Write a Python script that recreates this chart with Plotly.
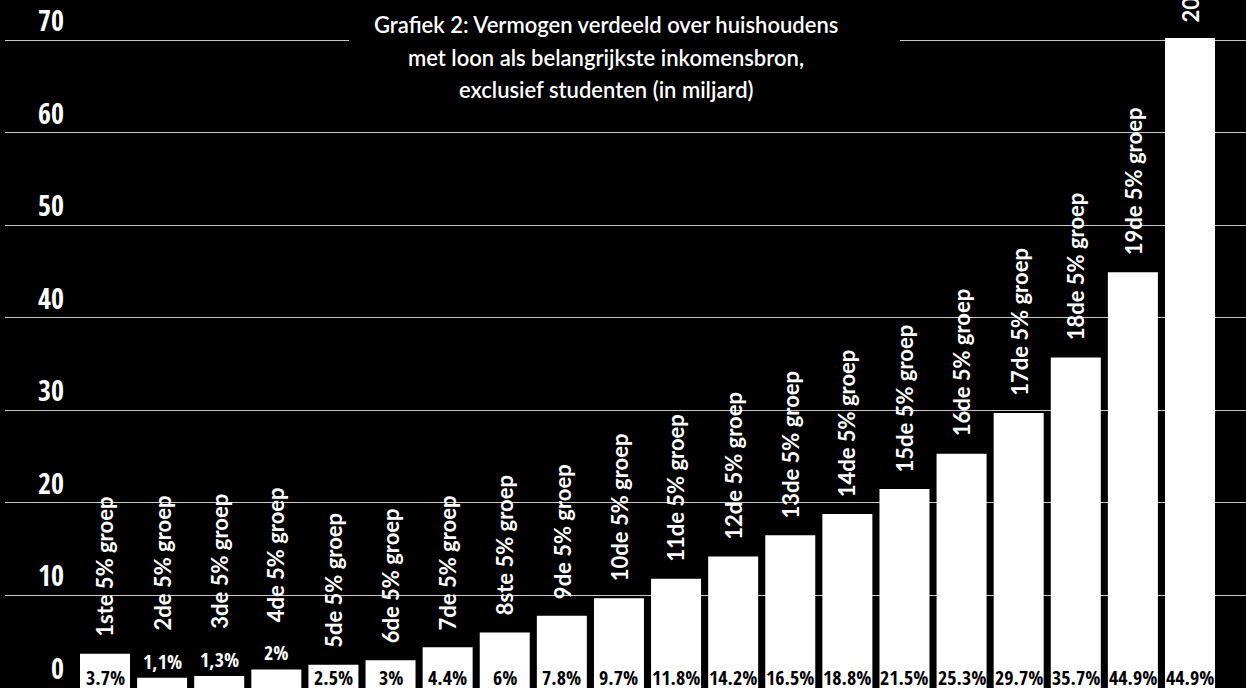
import plotly.graph_objects as go

# ---- data ----
groups = ["1ste 5% groep", "2de 5% groep", "3de 5% groep", "4de 5% groep", "5de 5% groep",
          "6de 5% groep", "7de 5% groep", "8ste 5% groep", "9de 5% groep", "10de 5% groep",
          "11de 5% groep", "12de 5% groep", "13de 5% groep", "14de 5% groep", "15de 5% groep",
          "16de 5% groep", "17de 5% groep", "18de 5% groep", "19de 5% groep", "20ste 5% groep"]
values = [3.7, 1.1, 1.3, 2, 2.5, 3, 4.4, 6, 7.8, 9.7,
          11.8, 14.2, 16.5, 18.8, 21.5, 25.3, 29.7, 35.7, 44.9, 100]
value_labels = ["3.7%", "1,1%", "1,3%", "2%", "2.5%", "3%", "4.4%", "6%", "7.8%", "9.7%",
                "11.8%", "14.2%", "16.5%", "18.8%", "21.5%", "25.3%", "29.7%", "35.7%", "44.9%", "44.9%"]
y_ticks = [0, 10, 20, 30, 40, 50, 60, 70]
title_lines = ["Grafiek 2: Vermogen verdeeld over huishoudens",
               "met loon als belangrijkste inkomensbron,",
               "exclusief studenten (in miljard)"]

# ---- layout constants ----
W, H = 1246, 688
YMAX = 70
GRID_TOP_PX = 40                      # pixel row of the 70 gridline
px_per_unit = (H - GRID_TOP_PX) / YMAX
ML, MR, MT, MB = 5, 0, 38, 0
plot_w = W - ML - MR
plot_h = H - MT - MB
y_top = YMAX + (GRID_TOP_PX - MT) / px_per_unit

NARROW = "Open Sans Condensed, Liberation Sans Narrow, DejaVu Sans Condensed, sans-serif"
SANS = "Lato, Noto Sans, sans-serif"

fig = go.Figure()
fig.add_trace(go.Bar(
    x=groups, y=values,
    marker=dict(color="#ffffff", line=dict(width=0)),
    hoverinfo="skip",
))

annotations = []

# y tick labels (above gridlines, right aligned)
for t in y_ticks:
    annotations.append(dict(
        x=(66 - ML) / plot_w, xref="paper", y=t, yref="y",
        text=str(t), showarrow=False, xanchor="right", yanchor="bottom",
        yshift=-1, font=dict(family=NARROW, size=28, color="#ffffff", weight=700),
    ))

# value + category labels
for g, v, lab in zip(groups, values, value_labels):
    vis = min(v, YMAX)
    fits = vis * px_per_unit >= 22
    if fits:
        annotations.append(dict(
            x=g, y=0, xref="x", yref="y", text=lab, showarrow=False,
            xanchor="center", yanchor="bottom", yshift=-5,
            font=dict(family=NARROW, size=20, color="#000000", weight=700),
        ))
        cat_shift = 15
    else:
        annotations.append(dict(
            x=g, y=vis, xref="x", yref="y", text=lab, showarrow=False,
            xanchor="center", yanchor="bottom", yshift=1,
            font=dict(family=NARROW, size=20, color="#ffffff", weight=700),
        ))
        cat_shift = 45
    annotations.append(dict(
        x=g, y=vis, xref="x", yref="y", text=g, showarrow=False, textangle=-90,
        xanchor="center", yanchor="bottom", yshift=cat_shift,
        font=dict(family=SANS, size=22, color="#ffffff", weight=700),
    ))

# title lines
title_y_px = [25, 57, 90]
for line, ypx in zip(title_lines, title_y_px):
    annotations.append(dict(
        x=(606 - ML) / plot_w, xref="paper", y=(H - MB - ypx) / plot_h, yref="paper",
        text=line, showarrow=False, xanchor="center", yanchor="middle",
        font=dict(family=SANS, size=22, color="#ffffff", weight=600),
    ))

# title background box (hides gridline behind title)
shapes = [dict(
    type="rect", xref="paper", yref="paper", layer="above",
    x0=(349 - ML) / plot_w, x1=(900 - ML) / plot_w,
    y0=(H - MB - 110) / plot_h, y1=(H - MB - 2) / plot_h,
    fillcolor="#000000", line=dict(width=0),
)]

n = len(groups)
pitch = (1190 - 105) / (n - 1)
x_lo = -(105 - ML) / pitch
x_hi = (n - 1) + (W - MR - 1190) / pitch

fig.update_layout(
    width=W, height=H,
    margin=dict(l=ML, r=MR, t=MT, b=MB, pad=0, autoexpand=False),
    paper_bgcolor="#000000", plot_bgcolor="#000000",
    bargap=1 - 50 / pitch,
    showlegend=False,
    xaxis=dict(type="category", range=[x_lo, x_hi], showticklabels=False,
               showgrid=False, zeroline=False, showline=False, fixedrange=True),
    yaxis=dict(range=[0, y_top], tickvals=y_ticks, showticklabels=False,
               showgrid=True, gridcolor="#c8c8c8", gridwidth=1,
               zeroline=False, showline=False, ticks="", fixedrange=True),
    annotations=annotations,
    shapes=shapes,
)

fig.write_html("out.html", config={"displayModeBar": False},
               post_script="document.body.style.margin='0px';document.body.style.background='#000';")
